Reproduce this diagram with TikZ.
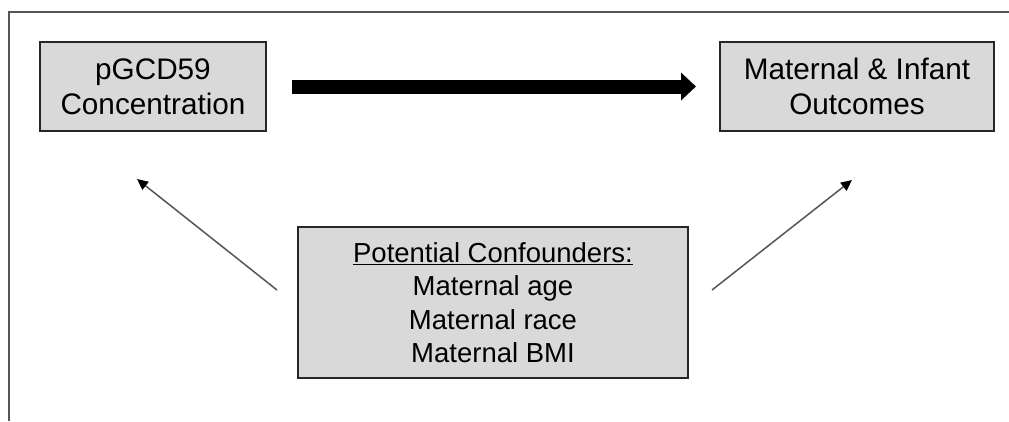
\documentclass[tikz,border=0pt]{standalone}
\usepackage{fontspec}
\setmainfont{Liberation Sans}
\usetikzlibrary{arrows.meta,positioning}

\definecolor{boxgray}{HTML}{D9D9D9}
\definecolor{linegray}{HTML}{555555}

\tikzset{
  factor/.style={draw=black!85, line width=2pt, fill=boxgray, align=center, inner sep=0pt},
  thinarrow/.style={draw=linegray, line width=1.5pt, -{Triangle[width=10pt,length=11pt,color=black]}},
  bigarrow/.style={line width=14pt, -{Triangle[width=27pt,length=15pt]}}
}

\begin{document}
\begin{tikzpicture}[x=1pt,y=-1pt,font=\fontsize{29.7}{35}\selectfont]
        \useasboundingbox (0,0) rectangle (1009,421);
        \draw[linegray, line width=2pt] (9,421) -- (9,12) -- (1009,12);

        \node[factor, minimum width=226pt, minimum height=89pt] (exp) at (153,86.5) {pGCD59\\Concentration};
        \node[factor, minimum width=274pt, minimum height=89pt] (out) at (857,86.5) {Maternal \& Infant\\Outcomes};
        \node[factor, minimum width=390pt, minimum height=151pt, font=\fontsize{27.5}{33.5}\selectfont] (conf) at (493,302.5)
            {\underline{Potential Confounders:}\\Maternal age\\Maternal race\\Maternal BMI};

        \coordinate (cl) at (277,290);
        \coordinate (tl) at (137,179);
        \coordinate (cr) at (712,290);
        \coordinate (tr) at (852,180);

        \draw (exp) edge[bigarrow, shorten <=25pt, shorten >=23pt] (out);
        \draw (cl) edge[thinarrow] (tl);
        \draw (cr) edge[thinarrow] (tr);
\end{tikzpicture}
\end{document}
